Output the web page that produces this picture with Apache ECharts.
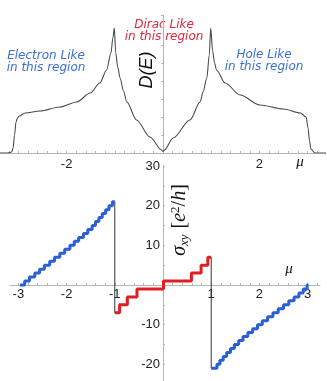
<!DOCTYPE html>
<html>
<head>
<meta charset="utf-8">
<script src="https://cdn.jsdelivr.net/npm/echarts@6/dist/echarts.min.js"></script>
<style>
  html, body { margin: 0; padding: 0; background: #fff; }
  #chart { width: 327px; height: 381px; }
</style>
</head>
<body>
<div id="chart"></div>
<script>
// density of states
const dosMu = [-3.38, -3.22, -3.14, -3.11, -3.08, -3.05, -3.02, -2.98, -2.86, -2.55, -2.14, -1.79, -1.51, -1.31, -1.17, -1.08, -1.04, -1.01,
  -0.98, -0.94, -0.89, -0.82, -0.75, -0.55, -0.27, -0.03, 0, 0.03, 0.21, 0.56, 0.77, 0.83, 0.91, 0.96, 0.99,
  1.03, 1.07, 1.11, 1.29, 1.6, 2.01, 2.5, 2.85, 2.97, 3.01, 3.04, 3.07, 3.15, 3.38];
const dosVal = [0, 0, 0.01, 0.05, 0.18, 0.31, 0.35, 0.37, 0.4, 0.42, 0.46, 0.51, 0.6, 0.7, 0.83, 1.0, 1.15, 1.25,
  1.0, 0.86, 0.75, 0.62, 0.51, 0.33, 0.16, 0.03, 0.015, 0.03, 0.15, 0.33, 0.51, 0.61, 0.75, 0.98, 1.25,
  1.02, 0.9, 0.83, 0.7, 0.58, 0.48, 0.44, 0.4, 0.36, 0.25, 0.12, 0.04, 0, 0];

// Hall conductivity steps (lower panel)
const blueLeftMu = [-2.97, -2.87, -2.77, -2.66, -2.56, -2.46, -2.35, -2.25, -2.14, -2.04, -1.93, -1.84, -1.75, -1.65, -1.56, -1.47,
  -1.40, -1.33, -1.26, -1.19, -1.12, -1.05, -1.0];
const blueLeftSigma = [0, 1, 2, 3, 4, 5, 6, 7, 8, 9, 10, 11, 12, 13, 14, 15, 16, 17, 18, 19, 20, 21, 21];
const blueRightMu = [1.0, 1.12, 1.18, 1.25, 1.32, 1.40, 1.48, 1.57, 1.66, 1.76, 1.86, 1.96, 2.06, 2.17, 2.28, 2.39, 2.50, 2.61,
  2.72, 2.82, 2.91, 2.99, 3.02];
const blueRightSigma = [-21, -20, -19, -18, -17, -16, -15, -14, -13, -12, -11, -10, -9, -8, -7, -6, -5, -4, -3, -2, -1, 0, 0];
const redMu = [-1.0, -0.90, -0.74, -0.54, 0.01, 0.59, 0.79, 0.93, 1.0];
const redSigma = [-7, -5, -3, -1, 1, 3, 5, 7, 7];
const jumpMu = [-1.0, 1.0];
const jumpTop = [21, 7];
const jumpBottom = [-7, -21];

// tick labels
const topTickLabels = [-2, 2];
const bottomTickLabels = [-3, -2, -1, 1, 2, 3];
const sigmaTickLabels = [30, 20, 10, -10, -20];

const zip = (xs, ys) => xs.map((x, i) => [x, ys[i]]);
const minorTicks = [];
for (let v = -3.2; v <= 3.21; v += 0.2) minorTicks.push(Math.round(v * 10) / 10);

const BLUE = '#2a5fd6';
const RED = '#e01f24';
const AXIS = '#b5b5b5';
const labelFont = 'Liberation Sans, Helvetica, Arial, sans-serif';

const chart = echarts.init(document.getElementById('chart'));

const option = {
  animation: false,
  backgroundColor: '#fff',
  grid: [
    { left: 0, width: 326, top: 15, height: 138, outerBoundsMode: 'none', containLabel: false },
    { left: 10, width: 310, top: 166, height: 238, outerBoundsMode: 'none', containLabel: false }
  ],
  xAxis: [
    {
      gridIndex: 0, type: 'value', min: -3.382, max: 3.382,
      axisLine: { onZero: true, lineStyle: { color: AXIS, width: 1 } },
      axisTick: { show: true, customValues: minorTicks, length: 2, inside: true, lineStyle: { color: AXIS } },
      axisLabel: { customValues: topTickLabels, color: '#222', fontSize: 13, fontFamily: labelFont, margin: 5 },
      splitLine: { show: false }
    },
    {
      // moved up onto sigma = 0 (grid bottom is at -30)
      gridIndex: 1, type: 'value', min: -3.174, max: 3.257, position: 'bottom', offset: -119,
      axisLine: { onZero: false, lineStyle: { color: AXIS, width: 1 } },
      axisTick: { show: true, customValues: minorTicks, length: 2, inside: true, lineStyle: { color: AXIS } },
      axisLabel: { customValues: bottomTickLabels, color: '#222', fontSize: 13, fontFamily: labelFont, margin: 3 },
      splitLine: { show: false }
    }
  ],
  yAxis: [
    {
      gridIndex: 0, type: 'value', min: 0, max: 1.38, interval: 0.18,
      axisLine: { show: true, onZero: true, lineStyle: { color: AXIS, width: 1 } },
      axisTick: { show: true, length: 2, lineStyle: { color: AXIS } },
      axisLabel: { show: false },
      splitLine: { show: false }
    },
    {
      // moved right onto mu = 0
      gridIndex: 1, type: 'value', min: -30, max: 30, interval: 5, position: 'left', offset: -153,
      axisLine: { show: true, onZero: false, lineStyle: { color: AXIS, width: 1 } },
      axisTick: { show: true, length: 2, inside: true, lineStyle: { color: AXIS } },
      axisLabel: { customValues: sigmaTickLabels, color: '#222', fontSize: 13, fontFamily: labelFont, margin: 3 },
      splitLine: { show: false }
    }
  ],
  series: [
    {
      type: 'line', xAxisIndex: 0, yAxisIndex: 0,
      data: zip(dosMu, dosVal),
      symbol: 'none', smooth: 0.3, smoothMonotone: 'x',
      lineStyle: { color: '#4a4a4a', width: 1.1 }
    },
    ...jumpMu.map((m, i) => ({
      type: 'line', xAxisIndex: 1, yAxisIndex: 1,
      data: [[m, jumpTop[i]], [m, jumpBottom[i]]],
      symbol: 'none', z: 1,
      lineStyle: { color: '#333', width: 1 }
    })),
    {
      type: 'line', xAxisIndex: 1, yAxisIndex: 1, step: 'end',
      data: zip(blueLeftMu, blueLeftSigma), symbol: 'none', z: 3,
      lineStyle: { color: BLUE, width: 3 }
    },
    {
      type: 'line', xAxisIndex: 1, yAxisIndex: 1, step: 'end',
      data: zip(blueRightMu, blueRightSigma), symbol: 'none', z: 3,
      lineStyle: { color: BLUE, width: 3 }
    },
    {
      type: 'line', xAxisIndex: 1, yAxisIndex: 1, step: 'end',
      data: zip(redMu, redSigma), symbol: 'none', z: 3,
      lineStyle: { color: RED, width: 3 }
    }
  ],
  graphic: [
    {
      type: 'text', x: 46, y: 62,
      style: { text: 'Electron Like\nin this region', fill: '#3b6fd9', align: 'center', verticalAlign: 'middle',
        font: 'italic 12px "DejaVu Sans"', lineHeight: 12 }
    },
    {
      type: 'text', x: 164, y: 31,
      style: { text: 'Dirac Like\nin this region', fill: '#e0263c', align: 'center', verticalAlign: 'middle',
        font: 'italic 12px "DejaVu Sans"', lineHeight: 12 }
    },
    {
      type: 'text', x: 264, y: 61,
      style: { text: 'Hole Like\nin this region', fill: '#3b6fd9', align: 'center', verticalAlign: 'middle',
        font: 'italic 12px "DejaVu Sans"', lineHeight: 12 }
    },
    {
      type: 'text', x: 147, y: 70, rotation: Math.PI / 2,
      style: { text: 'D(E)', fill: '#111', align: 'center', verticalAlign: 'middle',
        font: 'italic 18px "Liberation Sans"' }
    },
    {
      type: 'text', x: 300, y: 162,
      style: { text: 'μ', fill: '#111', align: 'center', verticalAlign: 'middle', font: 'italic 15px "Liberation Serif"' }
    },
    {
      type: 'text', x: 289, y: 269,
      style: { text: 'μ', fill: '#111', align: 'center', verticalAlign: 'middle', font: 'italic 15px "Liberation Serif"' }
    },
    {
      type: 'text', x: 180, y: 220, rotation: Math.PI / 2,
      style: {
        text: '{m|σ}{s|xy}{n| [}{m|e}{p|2}{n|/}{m|h}{n|]}',
        align: 'center', verticalAlign: 'middle', fill: '#111',
        rich: {
          m: { font: 'italic 20px "Liberation Serif"', fill: '#111', lineHeight: 22, verticalAlign: 'middle' },
          n: { font: '20px "Liberation Serif"', fill: '#111', lineHeight: 22, verticalAlign: 'middle' },
          s: { font: 'italic 13px "Liberation Serif"', fill: '#111', lineHeight: 12, verticalAlign: 'bottom', padding: [0, 1, 0, 0] },
          p: { font: '13px "Liberation Serif"', fill: '#111', lineHeight: 12, verticalAlign: 'top' }
        }
      }
    }
  ]
};

chart.setOption(option);
</script>
</body>
</html>
